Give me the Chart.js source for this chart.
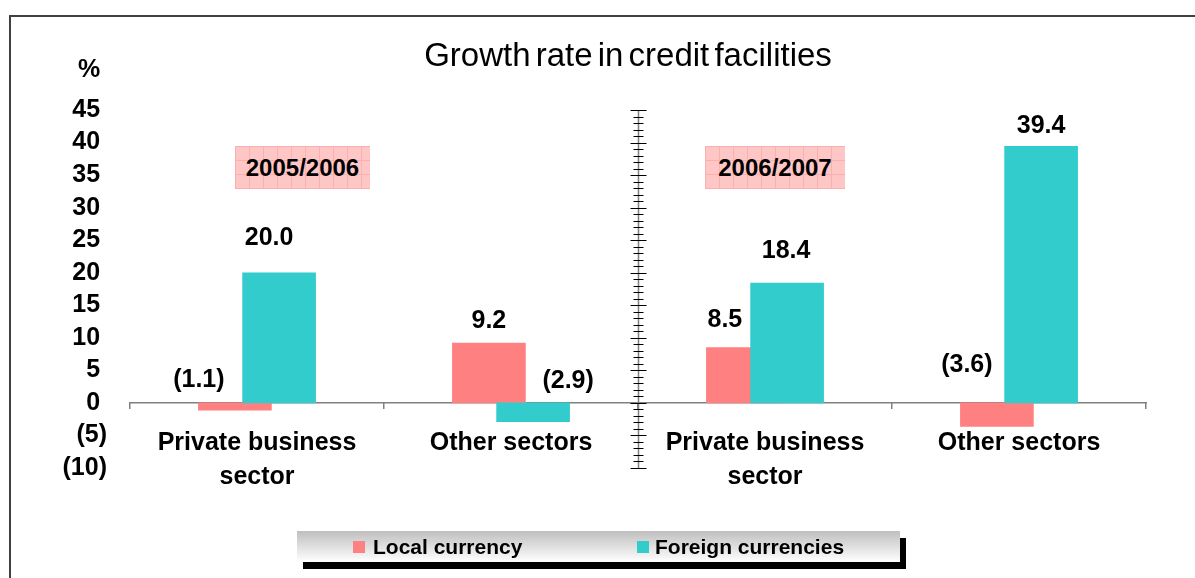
<!DOCTYPE html>
<html>
<head>
<meta charset="utf-8">
<title>Growth rate in credit facilities</title>
<script src="https://cdn.jsdelivr.net/npm/chart.js@4.4.1/dist/chart.umd.min.js"></script>
<style>
  html, body { margin: 0; padding: 0; background: #fff; }
  body {
    width: 1195px; height: 578px; position: relative; overflow: hidden;
    font-family: "Liberation Sans", Arial, sans-serif;
  }
  #frame {
    position: absolute; left: 9px; top: 15px; width: 1400px; height: 800px;
    border-left: 2px solid #404040; border-top: 2px solid #404040;
  }
  #chart { position: absolute; left: 0; top: 0; }
  .title {
    position: absolute; left: 328px; top: 35px; width: 600px;
    text-align: center; font-size: 33px; line-height: 40px;
    word-spacing: -4px; color: #000;
  }
  .unit {
    position: absolute; left: 78px; top: 53px;
    font-size: 25px; font-weight: bold; line-height: 30px;
  }
  .period {
    position: absolute; top: 146px; height: 43px; line-height: 43px;
    text-align: center; font-size: 24px; font-weight: bold;
    background-color: #ffc6c6;
    background-image:
      linear-gradient(#f9b0b0 1px, transparent 1px),
      linear-gradient(90deg, #f9b0b0 1px, transparent 1px);
    background-size: 14px 14px;
  }
  .legend {
    position: absolute; left: 297px; top: 531px; width: 603px; height: 31px;
    background: linear-gradient(#bfbfbf, #ffffff);
    box-shadow: 6px 7px 0 #000;
    font-size: 21px; font-weight: bold; line-height: 31px;
  }
  .legend span { position: absolute; top: 0; }
  .legend i { position: absolute; top: 10px; width: 12px; height: 12px; }
</style>
</head>
<body>
<div id="frame"></div>
<canvas id="chart" width="1195" height="578"></canvas>
<div class="title">Growth rate in credit facilities</div>
<div class="unit">%</div>
<div class="period" id="p0" style="left:235px; width:135px;"></div>
<div class="period" id="p1" style="left:705px; width:140px;"></div>
<div class="legend">
  <i style="left:56px; background:#ff8080;"></i><span id="l0" style="left:76px;"></span>
  <i style="left:340px; background:#33cccc;"></i><span id="l1" style="left:358px;"></span>
</div>

<script>
// 카테고리 / 시리즈 값
var categories = [["Private business", "sector"], "Other sectors", ["Private business", "sector"], "Other sectors"];
var localCurrency = [-1.1, 9.2, 8.5, -3.6];
var foreignCurrencies = [20.0, -2.9, 18.4, 39.4];
var seriesNames = ["Local currency", "Foreign currencies"];
var periods = ["2005/2006", "2006/2007"];

// y축 범위
var yMin = -10;
var yMax = 45;
var yStep = 5;

var FONT = "'Liberation Sans', Arial, sans-serif";
var barShift = 0.087; // 두 막대가 겹쳐 보이도록 살짝 어긋나게

// 값 라벨 위치 조정 (px)
var labelNudge = [
  [[-36, -23], [0, -22], [-18, -27], [-30, -38]],
  [[-10, -35], [35, -22], [-1, -32], [0, -20]]
];

function fmt(v) {
  return v < 0 ? "(" + Math.abs(v).toFixed(1) + ")" : v.toFixed(1);
}

// 카테고리 경계 (-0.5, 0.5, ...)
var bounds = categories.map(function (c, i) { return i - 0.5; });
bounds.push(categories.length - 0.5);

document.getElementById("p0").textContent = periods[0];
document.getElementById("p1").textContent = periods[1];
document.getElementById("l0").textContent = seriesNames[0];
document.getElementById("l1").textContent = seriesNames[1];

// 값 라벨
var valueLabels = {
  id: "valueLabels",
  afterDatasetsDraw: function (chart) {
    var ctx = chart.ctx;
    ctx.save();
    ctx.font = "bold 25px " + FONT;
    ctx.fillStyle = "#000";
    ctx.textAlign = "center";
    ctx.textBaseline = "middle";
    chart.data.datasets.forEach(function (ds, di) {
      chart.getDatasetMeta(di).data.forEach(function (el, i) {
        var v = ds.data[i].y;
        var n = labelNudge[di][i];
        var anchor = v < 0 ? el.base : el.y;
        ctx.fillText(fmt(v), el.x + n[0], anchor + n[1]);
      });
    });
    ctx.restore();
  }
};

// 가운데 눈금 구분선
var divider = {
  id: "divider",
  afterDatasetsDraw: function (chart) {
    var ctx = chart.ctx;
    var xs = chart.scales.x;
    var ys = chart.scales.y;
    var x = Math.round(xs.getPixelForValue(bounds[2])) + 0.5;
    ctx.save();
    ctx.strokeStyle = "#808080";
    ctx.lineWidth = 1.5;
    ctx.beginPath();
    ctx.moveTo(x, ys.getPixelForValue(yMax));
    ctx.lineTo(x, ys.getPixelForValue(yMin));
    ctx.stroke();
    ctx.strokeStyle = "#000";
    ctx.lineWidth = 1;
    for (var v = yMin; v <= yMax; v++) {
      var y = Math.round(ys.getPixelForValue(v)) + 0.5;
      var h = v % yStep === 0 ? 8 : 5;
      ctx.beginPath();
      ctx.moveTo(x - h, y);
      ctx.lineTo(x + h, y);
      ctx.stroke();
    }
    ctx.restore();
  }
};

new Chart(document.getElementById("chart"), {
  type: "bar",
  data: {
    datasets: [
      {
        label: seriesNames[0],
        data: localCurrency.map(function (v, i) { return { x: i - barShift, y: v }; }),
        backgroundColor: "#ff8080",
        barThickness: 73,
        stack: "g",
        order: 2
      },
      {
        label: seriesNames[1],
        data: foreignCurrencies.map(function (v, i) { return { x: i + barShift, y: v }; }),
        backgroundColor: "#33cccc",
        barThickness: 73,
        stack: "g",
        order: 1
      }
    ]
  },
  options: {
    responsive: false,
    animation: false,
    layout: { padding: { top: 110, bottom: 110, left: 0, right: 49 } },
    plugins: {
      legend: { display: false },
      tooltip: { enabled: false }
    },
    scales: {
      x: {
        type: "linear",
        position: { y: 0 },
        offset: false,
        min: bounds[0],
        max: bounds[bounds.length - 1],
        z: 1,
        afterBuildTicks: function (s) {
          s.ticks = categories.map(function (c, i) { return { value: i }; });
        },
        ticks: {
          callback: function (v) { return categories[v]; },
          font: { family: FONT, size: 25, weight: "bold", lineHeight: 1.36 },
          color: "#000",
          padding: 15,
          maxRotation: 0,
          autoSkip: false
        },
        grid: { display: false, offset: false },
        border: { color: "#808080", width: 1.5 }
      },
      xb: {
        type: "linear",
        axis: "x",
        position: { y: 0 },
        offset: false,
        min: bounds[0],
        max: bounds[bounds.length - 1],
        afterBuildTicks: function (s) {
          s.ticks = bounds.map(function (b) { return { value: b }; });
        },
        ticks: { display: false },
        grid: { drawOnChartArea: false, offset: false, tickLength: 6, color: "#808080", lineWidth: 1.5 },
        border: { display: false }
      },
      y: {
        min: yMin,
        max: yMax,
        stacked: false,
        afterFit: function (s) { s.width = 130; },
        ticks: {
          stepSize: yStep,
          autoSkip: false,
          callback: function (v) { return v < 0 ? "(" + (-v) + ")" : v + " "; },
          font: { family: FONT, size: 25, weight: "bold" },
          color: "#000",
          padding: 15
        },
        grid: { display: false },
        border: { display: false }
      }
    }
  },
  plugins: [valueLabels, divider]
});
</script>
</body>
</html>
